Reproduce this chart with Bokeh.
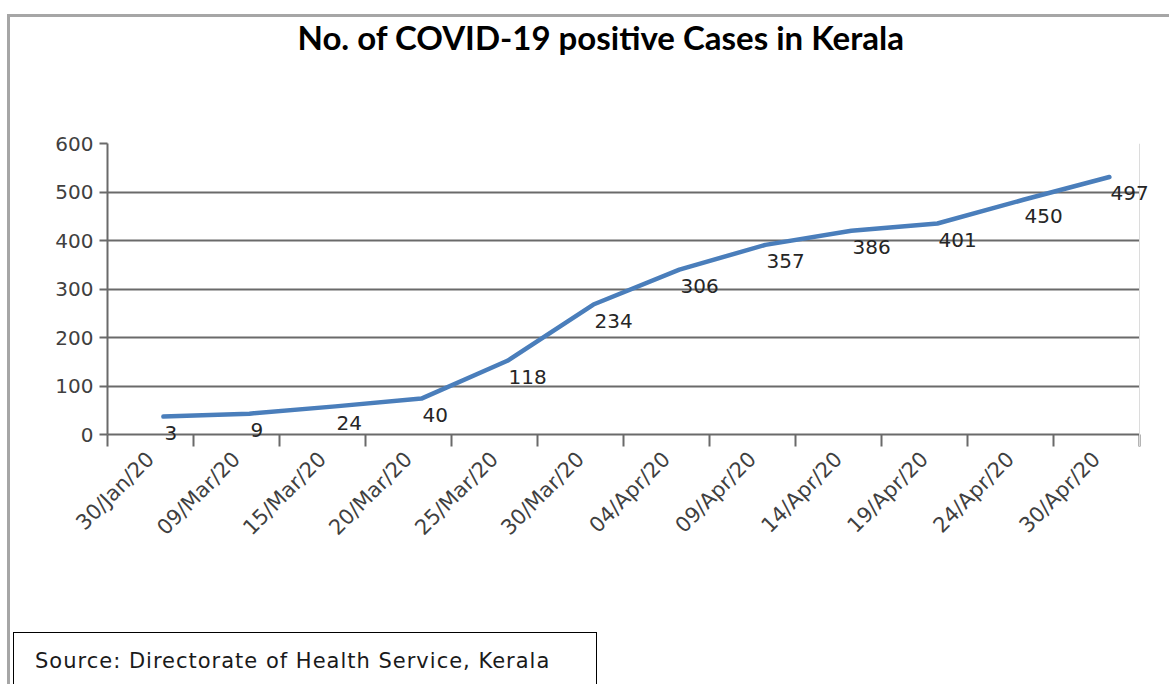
from math import pi
from bokeh.plotting import figure
from bokeh.layouts import column
from bokeh.models import Range1d, FixedTicker, LabelSet, Span, ColumnDataSource, Div, Title
from bokeh.core.properties import value
from bokeh.embed import file_html
from bokeh.resources import INLINE

dates = ["30/Jan/20", "09/Mar/20", "15/Mar/20", "20/Mar/20", "25/Mar/20", "30/Mar/20",
         "04/Apr/20", "09/Apr/20", "14/Apr/20", "19/Apr/20", "24/Apr/20", "30/Apr/20"]
cases = [3, 9, 24, 40, 118, 234, 306, 357, 386, 401, 450, 497]
y_ticks = [0, 100, 200, 300, 400, 500, 600]
title_text = "No. of COVID-19 positive Cases in Kerala"
source_text = "Source: Directorate of Health Service, Kerala"

n = len(dates)
idx = list(range(n))

W, H = 1169, 632
FL, FR, FT = 107, 1155, 143        # frame edges (canvas px)
ZERO = 434                          # pixel row of the value axis' zero
EXT = 12                            # frame extends below zero so low labels are not clipped
FB = ZERO + EXT
px_per_unit = (ZERO - FT) / float(y_ticks[-1] - y_ticks[0])
below = EXT / px_per_unit
pad = 16 / 86.0                     # room on the right for the last data label

p = figure(width=W, height=H, output_backend="svg", toolbar_location=None,
           x_range=Range1d(-0.5, n - 0.5 + pad), y_range=Range1d(y_ticks[0] - below, y_ticks[-1]),
           min_border_left=FL, min_border_right=W - FR, min_border_top=FT, min_border_bottom=H - FB)
p.outline_line_color = None
p.background_fill_color = "white"
p.border_fill_color = None

# spacer between frame and title (closest to the frame)
p.add_layout(Title(text=" ", text_font_size="1px", standoff=84), "above")

p.title.text = title_text
p.title.text_font = "Lato"
p.title.text_font_style = "bold"
p.title.text_font_size = "33px"
p.title.text_color = "black"
p.title.align = "left"
p.title.offset = 190
p.title.standoff = 0

axis_col = "#6a6a6a"
lab_col = "#404040"

# category axis: the zero grid line acts as its line, boundary ticks hang below it
xa = p.xaxis[0]
xa.ticker = FixedTicker(ticks=idx, minor_ticks=[i - 0.5 for i in range(n + 1)])
xa.bounds = (-0.5, n - 0.5)
xa.major_label_overrides = {i: d for i, d in enumerate(dates)}
xa.major_label_orientation = pi / 4
xa.major_tick_out = 0
xa.major_tick_in = 0
xa.minor_tick_out = 0
xa.minor_tick_in = EXT
xa.minor_tick_line_color = axis_col
xa.minor_tick_line_width = 2
xa.axis_line_color = None
xa.major_label_standoff = 21 - EXT
xa.major_label_text_font = "DejaVu Sans"
xa.major_label_text_font_size = "21px"
xa.major_label_text_color = lab_col

ya = p.yaxis[0]
ya.ticker = FixedTicker(ticks=y_ticks)
ya.bounds = (y_ticks[0], y_ticks[-1])
ya.major_tick_out = 8
ya.major_tick_in = 0
ya.minor_tick_line_color = None
ya.major_tick_line_color = axis_col
ya.major_tick_line_width = 2
ya.axis_line_color = axis_col
ya.axis_line_width = 2
ya.major_label_standoff = 6
ya.major_label_text_font = "DejaVu Sans"
ya.major_label_text_font_size = "20px"
ya.major_label_text_color = lab_col

p.xgrid.visible = False
p.ygrid.ticker = FixedTicker(ticks=y_ticks)
p.ygrid.grid_line_color = axis_col
p.ygrid.grid_line_width = 2
try:
    p.ygrid.cross_bounds = (-0.5, n - 0.5)
except Exception:
    pass

p.add_layout(Span(location=n - 0.5, dimension="height", line_color="#dcdcdc", line_width=1))

# the line in the original is drawn slightly displaced from its labels
p.extra_x_ranges = {"lx": Range1d(-0.5 - 0.15, n - 0.5 + pad - 0.15)}
p.extra_y_ranges = {"ly": Range1d(y_ticks[0] - below - 34, y_ticks[-1] - 34)}
p.line(idx, cases, x_range_name="lx", y_range_name="ly",
       line_color="#4a7ebb", line_width=4.5, line_join="round", line_cap="round")

src = ColumnDataSource(dict(x=idx, y=cases, t=[str(c) for c in cases]))
p.add_layout(LabelSet(x="x", y="y", text="t", source=src, x_offset=14, y_offset=0,
                      text_align="left", text_baseline="middle",
                      text_font=value("DejaVu Sans"), text_font_size="20px", text_color="#262626"))

src_html = (
    '<div style="margin-left:13px;width:584px;height:52px;box-sizing:border-box;'
    'border:1px solid black;border-bottom:none;background:white;'
    'padding-left:21px;padding-top:16px;font-family:\'DejaVu Sans\';font-size:21px;'
    'letter-spacing:1px;line-height:25px;color:#1a1a1a;white-space:nowrap;">' + source_text + '</div>'
)
note = Div(text=src_html, width=600, height=52, margin=(0, 0, 0, 0))

frame_bg = ("linear-gradient(#a6a6a6,#a6a6a6) 7px 14px / 3px 700px no-repeat, "
            "linear-gradient(#a6a6a6,#a6a6a6) 7px 14px / 1200px 3px no-repeat")
layout = column(p, note, styles={"background": frame_bg})

open("out.html", "w").write(file_html(layout, INLINE))
